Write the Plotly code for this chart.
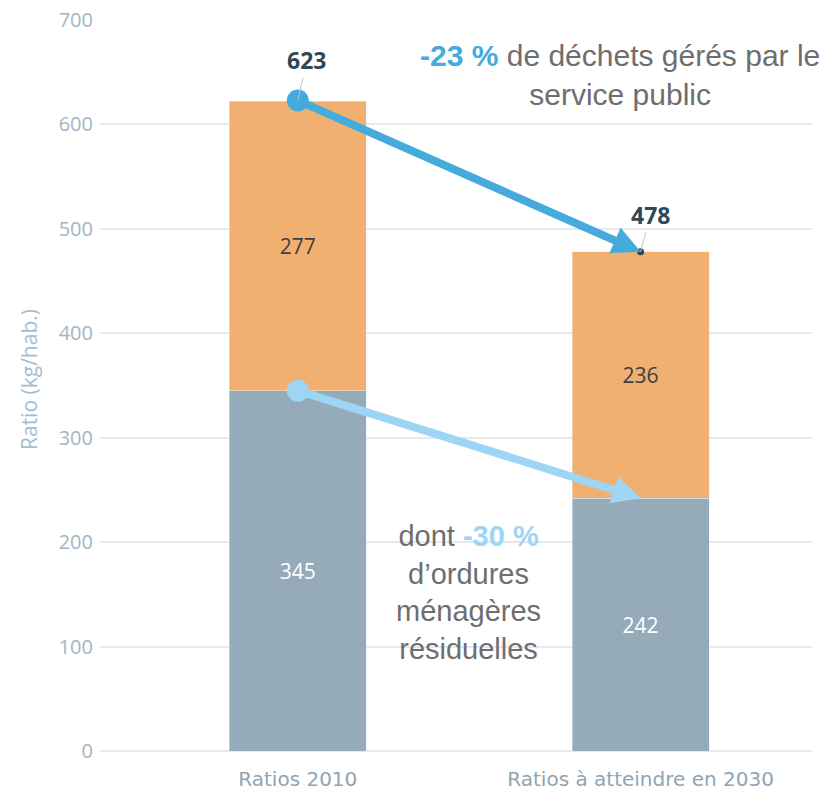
import plotly.graph_objects as go

categories = ["Ratios 2010", "Ratios à atteindre en 2030"]
omr = [345, 242]
autres = [277, 236]
totals = [623, 478]
y_ticks = [0, 100, 200, 300, 400, 500, 600, 700]

C_BOTTOM = "#95ABBA"
C_TOP = "#F2B070"
C_DARKARROW = "#45AADC"
C_LIGHTARROW = "#9DD5F5"
TICK_COL = "#A3B5C3"

L, R, T, B = 100, 25, 20, 40
W, H = 837, 791
PW, PH = W - L - R, H - T - B


def px(xp):
    return (xp - L) / PW


def py(yp):
    return (H - B - yp) / PH


fig = go.Figure()
fig.add_trace(go.Bar(x=categories, y=omr, marker_color=C_BOTTOM, width=0.4,
                     text=[str(v) for v in omr], textposition="inside",
                     insidetextanchor="middle",
                     textfont=dict(family="Open Sans", size=21, color="white"),
                     hoverinfo="skip"))
fig.add_trace(go.Bar(x=categories, y=autres, marker_color=C_TOP, width=0.4,
                     text=[str(v) for v in autres], textposition="inside",
                     insidetextanchor="middle",
                     textfont=dict(family="Open Sans", size=21, color="#404040"),
                     hoverinfo="skip"))

# arrows
fig.add_annotation(x=1, y=totals[1], ax=0, ay=totals[0], xref="x", yref="y",
                   axref="x", ayref="y", showarrow=True, arrowhead=2,
                   arrowsize=0.7, arrowwidth=8, arrowcolor=C_DARKARROW, text="")
fig.add_annotation(x=1, y=omr[1], ax=0, ay=omr[0], xref="x", yref="y",
                   axref="x", ayref="y", showarrow=True, arrowhead=2,
                   arrowsize=0.7, arrowwidth=8, arrowcolor=C_LIGHTARROW, text="")

# start dots
fig.add_trace(go.Scatter(x=[categories[0]], y=[totals[0]], mode="markers",
                         marker=dict(size=22, color=C_DARKARROW), hoverinfo="skip"))
fig.add_trace(go.Scatter(x=[categories[0]], y=[omr[0]], mode="markers",
                         marker=dict(size=22, color=C_LIGHTARROW), hoverinfo="skip"))
fig.add_trace(go.Scatter(x=[categories[1]], y=[totals[1]], mode="markers",
                         marker=dict(size=7, color="#2F4858"), hoverinfo="skip"))

# total labels
for i, t in enumerate(totals):
    fig.add_annotation(x=i, y=t, xref="x", yref="y", text="<b>%d</b>" % t,
                       showarrow=True, arrowhead=0, arrowwidth=1, arrowcolor="#B8C6D0",
                       ax=9 if i == 0 else 10, ay=-40 if i == 0 else -37,
                       font=dict(family="Open Sans", size=23, color="#2F4858"))

# texts
fig.add_annotation(xref="paper", yref="paper", x=px(620), y=py(75),
                   xanchor="center", yanchor="middle",
                   text="<span style='color:%s'><b>-23 %%</b></span> de déchets gérés par le<br>service public" % C_DARKARROW,
                   showarrow=False, align="center",
                   font=dict(family="Liberation Sans, Arial", size=30, color="#6E6E6E"))
fig.add_annotation(xref="paper", yref="paper", x=px(468), y=py(592),
                   xanchor="center", yanchor="middle",
                   text="dont <span style='color:%s'><b>-30 %%</b></span><br>d’ordures<br>ménagères<br>résiduelles" % C_LIGHTARROW,
                   showarrow=False, align="center",
                   font=dict(family="Liberation Sans, Arial", size=29, color="#6E6E6E"))

# y title
fig.add_annotation(xref="paper", yref="paper", x=px(29), y=py(380),
                   xanchor="center", yanchor="middle",
                   text="Ratio (kg/hab.)", textangle=-90, showarrow=False,
                   font=dict(family="Open Sans", size=21, color="#A9BCCB"))

fig.update_layout(
    width=W, height=H, barmode="stack", showlegend=False,
    margin=dict(l=L, r=R, t=T, b=B),
    plot_bgcolor="white", paper_bgcolor="white",
    xaxis=dict(range=[-0.577, 1.5], showline=False, ticks="", automargin=False,
               ticklabelstandoff=14,
               tickfont=dict(family="DejaVu Sans", size=20, color="#8FA4B4")),
    yaxis=dict(range=[0, 700], tickvals=y_ticks, showline=False, automargin=False,
               gridcolor="#E3E9EE", gridwidth=1.5, zeroline=True, zerolinecolor="#E3E9EE",
               ticks="", ticklabelstandoff=6,
               tickfont=dict(family="Open Sans", size=20, color=TICK_COL)),
)
fig.write_html("out.html", config={"displayModeBar": False},
               post_script="document.body.style.margin='0';")
